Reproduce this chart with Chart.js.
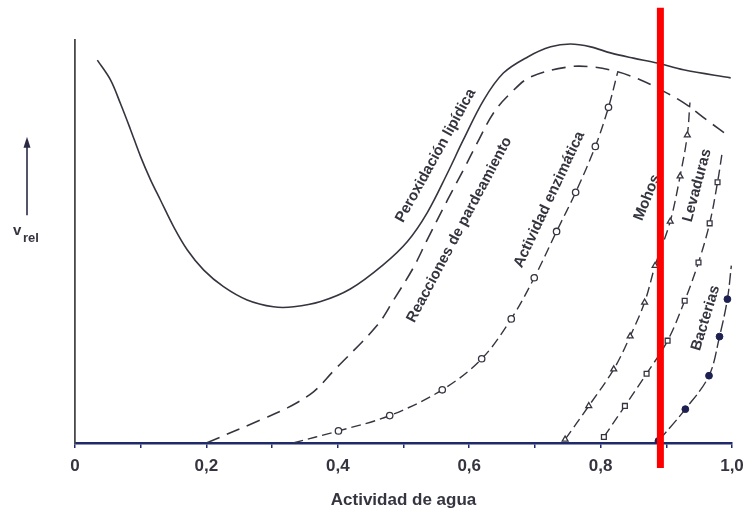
<!DOCTYPE html>
<html>
<head>
<meta charset="utf-8">
<script src="https://cdn.jsdelivr.net/npm/chart.js@4.4.1/dist/chart.umd.min.js"></script>
<style>
  html, body { margin: 0; padding: 0; background: #fff; }
  #wrap { width: 745px; height: 512px; position: relative; }
</style>
</head>
<body>
<div id="wrap"><canvas id="grafico"></canvas></div>
<script>
// actividad de agua (x) vs velocidad relativa (0..100)
const peroxX = [0.034, 0.054, 0.069, 0.084, 0.100, 0.115, 0.130, 0.150, 0.171, 0.196, 0.226, 0.262, 0.302, 0.333, 0.374, 0.419, 0.469, 0.506, 0.536, 0.567, 0.591, 0.622, 0.652, 0.689, 0.724, 0.754, 0.785, 0.815, 0.850, 0.886, 0.926, 0.998];
const peroxV = [95.0, 90.1, 84.3, 78.0, 71.0, 65.3, 60.3, 53.7, 47.9, 42.9, 38.8, 35.5, 33.8, 33.8, 35.1, 38.2, 44.2, 50.0, 57.1, 67.0, 75.2, 85.1, 91.8, 95.8, 98.3, 99.0, 98.3, 96.8, 95.5, 94.3, 92.6, 90.6];

const pardX = [0.200, 0.282, 0.323, 0.363, 0.393, 0.460, 0.485, 0.515, 0.536, 0.567, 0.591, 0.612, 0.637, 0.663, 0.693, 0.750, 0.789, 0.826, 0.861, 0.886, 0.925, 0.962, 0.997];
const pardV = [0, 5.7, 8.7, 12.7, 17.8, 29.2, 35.5, 43.5, 50.4, 60.3, 67.7, 74.4, 81.9, 86.8, 90.8, 93.3, 93.3, 92.1, 90.1, 88.1, 84.6, 80.1, 75.9];

const enzX = [0.332, 0.401, 0.479, 0.559, 0.619, 0.664, 0.699, 0.733, 0.762, 0.792, 0.812, 0.826];
const enzV = [0, 3.0, 6.8, 13.2, 20.9, 30.8, 41.0, 52.5, 62.2, 73.6, 83.3, 92.0];

const mohosX = [0.746, 0.782, 0.820, 0.845, 0.867, 0.883, 0.906, 0.921, 0.932, 0.936];
const mohosV = [0.9, 9.2, 18.3, 26.5, 34.9, 44.0, 55.0, 66.2, 76.4, 84.5];

const levX = [0.805, 0.837, 0.870, 0.902, 0.928, 0.949, 0.966, 0.978, 0.985];
const levV = [1.5, 9.2, 17.2, 25.4, 35.3, 44.8, 54.5, 64.7, 72.0];

const bactX = [0.888, 0.929, 0.965, 0.981, 0.993, 0.999];
const bactV = [0.5, 8.4, 16.7, 26.4, 35.7, 44.0];

// marca roja (a_w ~ 0,89)
const marcaX = [0.891, 0.891];
const marcaV = [-6.2, 108];

const xTickLabels = ['0', '', '0,2', '', '0,4', '', '0,6', '', '0,8', '', '1,0'];

const curveLabels = [
  { text: 'Peroxidación lipídica', x: 0.549, v: 71.3, angle: -61 },
  { text: 'Reacciones de pardeamiento', x: 0.585, v: 52.9, angle: -62 },
  { text: 'Actividad enzimática', x: 0.722, v: 60.4, angle: -65 },
  { text: 'Mohos', x: 0.871, v: 60.9, angle: -68 },
  { text: 'Levaduras', x: 0.947, v: 63.9, angle: -75 },
  { text: 'Bacterias', x: 0.960, v: 31.0, angle: -73 }
];

const toPoints = (xs, vs) => xs.map((x, i) => ({ x: x, y: vs[i] }));

// sin marcador en los extremos que no lo tienen
const innerOnly = (ctx) => {
  const n = ctx.dataset.data.length;
  return (ctx.dataIndex === 0 || ctx.dataIndex === n - 1) ? 0 : 3.2;
};
const noLast = (ctx) => (ctx.dataIndex === ctx.dataset.data.length - 1 ? 0 : 3.4);

const INK = '#353540';
const FONT = "'Liberation Sans', Arial, sans-serif";

const textosPlugin = {
  id: 'textos',
  beforeDatasetsDraw(chart) {
    const { ctx, scales: { x, y } } = chart;
    ctx.save();
    ctx.fillStyle = INK;
    ctx.font = 'bold 15px ' + FONT;
    ctx.textAlign = 'center';
    ctx.textBaseline = 'middle';
    curveLabels.forEach((l) => {
      ctx.save();
      ctx.translate(x.getPixelForValue(l.x), y.getPixelForValue(l.v));
      ctx.rotate(l.angle * Math.PI / 180);
      ctx.fillText(l.text, 0, 0);
      ctx.restore();
    });

    // flecha y v_rel
    const ax = chart.chartArea.left - 48;
    const yTop = y.getPixelForValue(76);
    const yBot = y.getPixelForValue(56.5);
    ctx.strokeStyle = '#2a2a45';
    ctx.lineWidth = 1.6;
    ctx.beginPath();
    ctx.moveTo(ax, yBot);
    ctx.lineTo(ax, yTop + 8);
    ctx.stroke();
    ctx.fillStyle = '#2a2a45';
    ctx.beginPath();
    ctx.moveTo(ax, yTop);
    ctx.lineTo(ax - 3.5, yTop + 11);
    ctx.lineTo(ax + 3.5, yTop + 11);
    ctx.closePath();
    ctx.fill();

    ctx.fillStyle = INK;
    ctx.textAlign = 'left';
    ctx.textBaseline = 'alphabetic';
    const vy = y.getPixelForValue(51.5);
    ctx.font = 'bold 15px ' + FONT;
    ctx.fillText('v', ax - 14, vy);
    ctx.font = 'bold 13px ' + FONT;
    ctx.fillText('rel', ax - 4, vy + 7);
    ctx.restore();
  }
};

const SUAVE = 0.35;

new Chart(document.getElementById('grafico'), {
  type: 'line',
  data: {
    datasets: [
      {
        label: 'marca',
        data: toPoints(marcaX, marcaV),
        borderColor: '#ff0000',
        borderWidth: 7,
        pointRadius: 0,
        tension: 0,
        clip: false,
        order: 0
      },
      {
        label: 'Peroxidación lipídica',
        data: toPoints(peroxX, peroxV),
        borderColor: INK,
        borderWidth: 1.6,
        pointRadius: 0,
        tension: SUAVE,
        order: 1
      },
      {
        label: 'Reacciones de pardeamiento',
        data: toPoints(pardX, pardV),
        borderColor: INK,
        borderWidth: 1.6,
        borderDash: [14, 8],
        pointRadius: 0,
        tension: SUAVE,
        order: 1
      },
      {
        label: 'Actividad enzimática',
        data: toPoints(enzX, enzV),
        borderColor: INK,
        borderWidth: 1.4,
        borderDash: [10, 5],
        pointStyle: 'circle',
        pointRadius: innerOnly,
        pointBorderWidth: 1.3,
        pointBorderColor: INK,
        pointBackgroundColor: '#fff',
        tension: SUAVE,
        order: 1
      },
      {
        label: 'Mohos',
        data: toPoints(mohosX, mohosV),
        borderColor: INK,
        borderWidth: 1.4,
        borderDash: [10, 5],
        pointStyle: 'triangle',
        pointRadius: noLast,
        pointBorderWidth: 1.3,
        pointBorderColor: INK,
        pointBackgroundColor: '#fff',
        tension: SUAVE,
        order: 1
      },
      {
        label: 'Levaduras',
        data: toPoints(levX, levV),
        borderColor: INK,
        borderWidth: 1.4,
        borderDash: [10, 5],
        pointStyle: 'rect',
        pointRadius: noLast,
        pointBorderWidth: 1.3,
        pointBorderColor: INK,
        pointBackgroundColor: '#fff',
        tension: SUAVE,
        order: 1
      },
      {
        label: 'Bacterias',
        data: toPoints(bactX, bactV),
        borderColor: INK,
        borderWidth: 1.4,
        borderDash: [12, 4],
        pointStyle: 'circle',
        pointRadius: noLast,
        pointBorderWidth: 1,
        pointBorderColor: '#1d2050',
        pointBackgroundColor: '#1d2050',
        tension: SUAVE,
        order: 1
      }
    ]
  },
  options: {
    responsive: true,
    maintainAspectRatio: false,
    animation: false,
    layout: { padding: { top: 40, right: 13, left: 0, bottom: 0 } },
    plugins: {
      legend: { display: false },
      tooltip: { enabled: false },
      title: { display: false }
    },
    scales: {
      x: {
        type: 'linear',
        min: 0,
        max: 1,
        afterFit: (scale) => {
          scale.height = 69;
          scale.paddingLeft = 0;
          scale.paddingRight = 0;
        },
        border: { display: true, color: '#1f2a6b', width: 2.5 },
        grid: {
          display: true,
          drawOnChartArea: false,
          drawTicks: true,
          tickLength: 5,
          color: '#1f2a6b',
          lineWidth: 1.5
        },
        ticks: {
          stepSize: 0.1,
          autoSkip: false,
          maxRotation: 0,
          padding: 8,
          color: INK,
          font: { family: FONT, size: 17, weight: 'bold' },
          callback: (value, index) => xTickLabels[index]
        },
        title: {
          display: true,
          text: 'Actividad de agua',
          color: INK,
          font: { family: FONT, size: 17, weight: 'bold' },
          padding: { top: 0, bottom: 1 }
        }
      },
      y: {
        type: 'linear',
        min: 0,
        max: 100,
        afterFit: (scale) => {
          scale.width = 75;
          scale.paddingTop = 0;
          scale.paddingBottom = 0;
        },
        border: { display: true, color: '#4a4a4a', width: 1.8 },
        grid: { display: false },
        ticks: { display: false }
      }
    }
  },
  plugins: [textosPlugin]
});
</script>
</body>
</html>
